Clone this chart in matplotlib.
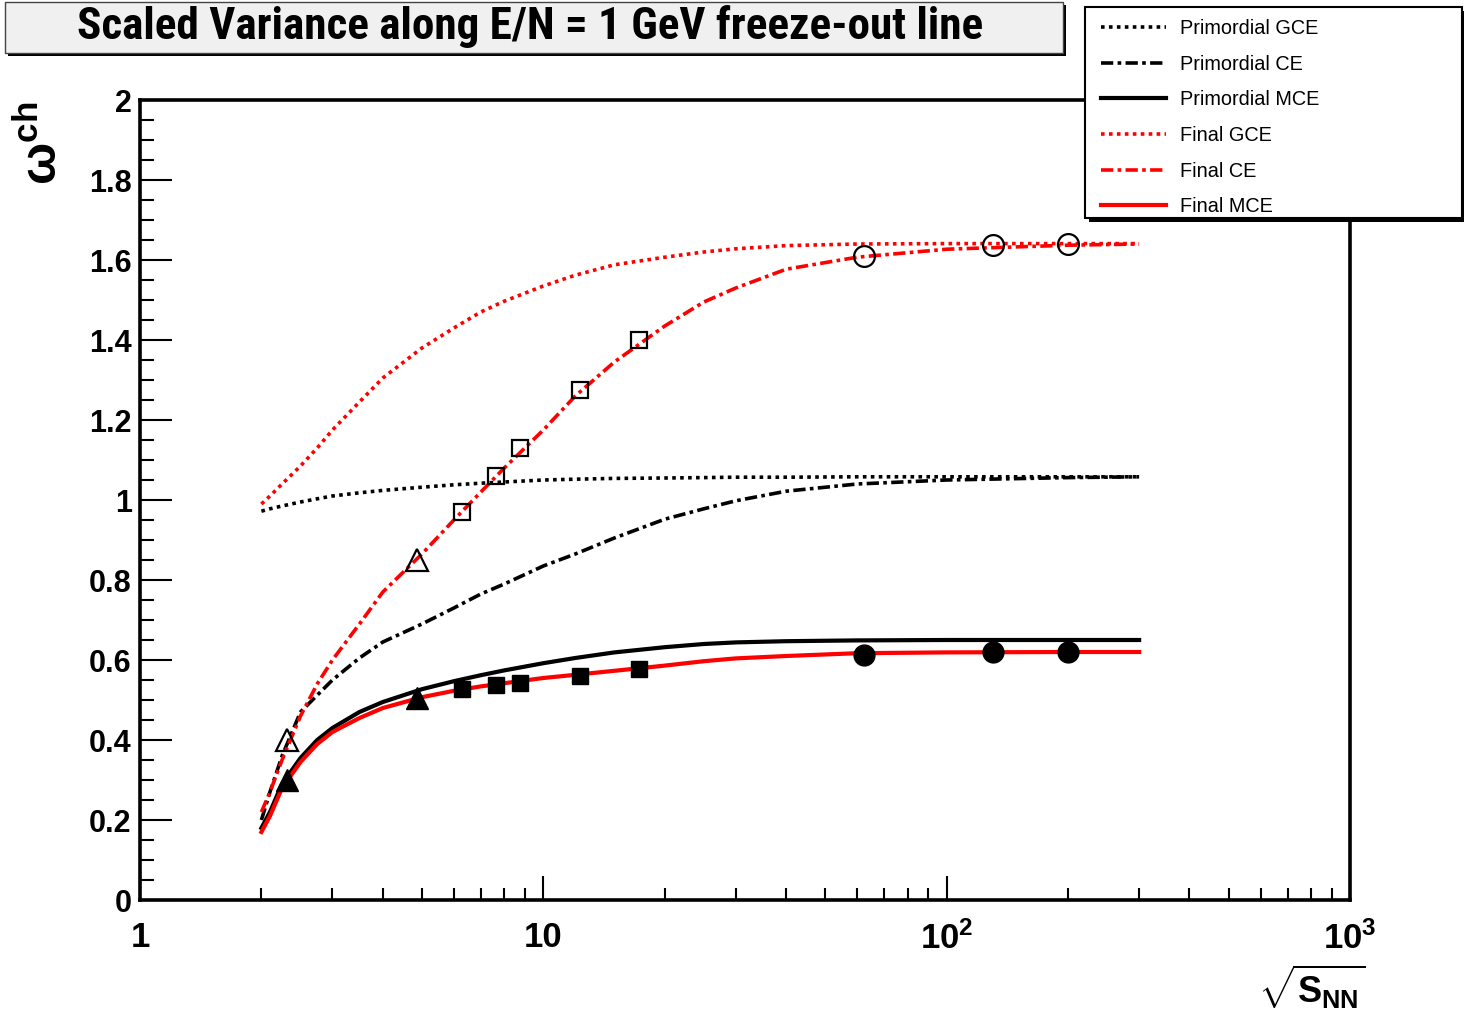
import matplotlib
matplotlib.use('Agg')
import matplotlib.pyplot as plt
from matplotlib.patches import Rectangle
from matplotlib.ticker import FixedLocator, NullFormatter, FixedFormatter

plt.rcParams['font.family'] = ['Liberation Sans', 'DejaVu Sans']
plt.rcParams['mathtext.fontset'] = 'custom'
plt.rcParams['mathtext.rm'] = 'Liberation Sans'
plt.rcParams['mathtext.bf'] = 'Liberation Sans:bold'
plt.rcParams['mathtext.it'] = 'Liberation Sans:italic'

# model curves: sqrt(s_NN) [GeV] and scaled variance omega^ch
sqrt_s = [2.0, 2.1, 2.25, 2.5, 2.75, 3.0, 3.5, 4.0, 5.0, 6.0, 7.0, 8.0, 10.0,
          12.0, 15.0, 20.0, 25.0, 30.0, 40.0, 60.0, 100.0, 200.0, 300.0]
prim_gce = [0.972, 0.978, 0.985, 0.995, 1.003, 1.01, 1.018, 1.024, 1.032, 1.038,
            1.042, 1.045, 1.05, 1.052, 1.054, 1.055, 1.056, 1.057, 1.057, 1.058,
            1.058, 1.058, 1.058]
prim_ce = [0.20, 0.27, 0.36, 0.47, 0.512, 0.55, 0.605, 0.645, 0.69, 0.73,
           0.765, 0.79, 0.835, 0.865, 0.905, 0.952, 0.978, 0.998, 1.022, 1.04,
           1.05, 1.056, 1.058]
prim_mce = [0.18, 0.22, 0.29, 0.355, 0.40, 0.43, 0.47, 0.495, 0.527, 0.547,
            0.562, 0.574, 0.592, 0.605, 0.619, 0.632, 0.64, 0.644, 0.647, 0.649,
            0.65, 0.65, 0.65]
final_gce = [0.99, 1.01, 1.04, 1.085, 1.13, 1.175, 1.245, 1.305, 1.38, 1.43,
             1.47, 1.497, 1.535, 1.562, 1.588, 1.607, 1.62, 1.628, 1.636, 1.64,
             1.641, 1.641, 1.641]
final_ce = [0.22, 0.27, 0.35, 0.46, 0.54, 0.60, 0.69, 0.77, 0.865, 0.95,
            1.02, 1.08, 1.175, 1.26, 1.345, 1.435, 1.495, 1.53, 1.577, 1.607,
            1.627, 1.637, 1.64]
final_mce = [0.17, 0.21, 0.28, 0.345, 0.39, 0.42, 0.455, 0.48, 0.507, 0.523,
             0.534, 0.542, 0.555, 0.563, 0.573, 0.586, 0.597, 0.604, 0.61, 0.617,
             0.619, 0.62, 0.62]

# points at the AGS, SPS and RHIC energies
e_ags = [2.32, 4.86]
ce_ags = [0.40, 0.85]
mce_ags = [0.30, 0.505]
e_sps = [6.27, 7.62, 8.77, 12.3, 17.3]
ce_sps = [0.97, 1.06, 1.13, 1.275, 1.40]
mce_sps = [0.528, 0.537, 0.543, 0.56, 0.578]
e_rhic = [62.4, 130.0, 200.0]
ce_rhic = [1.61, 1.637, 1.64]
mce_rhic = [0.612, 0.62, 0.62]

xtick_vals = [1, 10, 100, 1000]
xtick_text = ['1', '10', r'$\mathbf{10^{2}}$', r'$\mathbf{10^{3}}$']
ytick_vals = [0, 0.2, 0.4, 0.6, 0.8, 1.0, 1.2, 1.4, 1.6, 1.8, 2.0]
ytick_text = ['0', '0.2', '0.4', '0.6', '0.8', '1', '1.2', '1.4', '1.6', '1.8', '2']

W, H = 1464, 1019
def fx(px):
    return px / W
def fy(py):
    return 1 - py / H

fig = plt.figure(figsize=(W / 100, H / 100), dpi=100)
ax = fig.add_axes([fx(140), fy(900), fx(1350) - fx(140), fy(100) - fy(900)])

dot = (0, (1, 1.2))
dashdot = (0, (3.4, 1.2, 1, 1.2))
l1, = ax.plot(sqrt_s, prim_gce, color='black', ls=dot, lw=2.6)
l2, = ax.plot(sqrt_s, prim_ce, color='black', ls=dashdot, lw=2.6)
l3, = ax.plot(sqrt_s, prim_mce, color='black', ls='-', lw=3.0)
l4, = ax.plot(sqrt_s, final_gce, color='red', ls=dot, lw=2.6)
l5, = ax.plot(sqrt_s, final_ce, color='red', ls=dashdot, lw=2.6)
l6, = ax.plot(sqrt_s, final_mce, color='red', ls='-', lw=3.0)

ax.plot(e_ags, ce_ags, ls='none', marker='^', ms=16, mfc='none', mec='black', mew=1.6)
ax.plot(e_ags, mce_ags, ls='none', marker='^', ms=16, mfc='black', mec='black')
ax.plot(e_sps, ce_sps, ls='none', marker='s', ms=12, mfc='none', mec='black', mew=1.6)
ax.plot(e_sps, mce_sps, ls='none', marker='s', ms=12, mfc='black', mec='black')
ax.plot(e_rhic, ce_rhic, ls='none', marker='o', ms=15, mfc='none', mec='black', mew=1.6)
ax.plot(e_rhic, mce_rhic, ls='none', marker='o', ms=15, mfc='black', mec='black')

ax.set_xscale('log')
ax.set_xlim(1, 1000)
ax.set_ylim(0, 2)
for s in ax.spines.values():
    s.set_linewidth(2.6)

ax.xaxis.set_major_locator(FixedLocator(xtick_vals))
ax.xaxis.set_major_formatter(FixedFormatter(xtick_text))
ax.xaxis.set_minor_locator(FixedLocator([m * d for d in (1, 10, 100) for m in range(2, 10)]))
ax.xaxis.set_minor_formatter(NullFormatter())
ax.yaxis.set_major_locator(FixedLocator(ytick_vals))
ax.yaxis.set_major_formatter(FixedFormatter(ytick_text))
ax.yaxis.set_minor_locator(FixedLocator([i * 0.05 for i in range(41)]))
ax.tick_params(which='both', direction='in', top=False, right=False, width=1.5)
ax.tick_params(axis='y', which='major', length=23, pad=6, labelsize=22)
ax.tick_params(axis='y', which='minor', length=10)
ax.tick_params(axis='x', which='major', length=17, pad=15, labelsize=25)
ax.tick_params(axis='x', which='minor', length=9)
for lab in ax.get_xticklabels() + ax.get_yticklabels():
    lab.set_fontweight('bold')

fig.text(fx(42), fy(143), r'$\mathbf{\omega^{ch}}$', rotation=90,
         ha='center', va='center', fontsize=36)
fig.text(fx(1312), fy(987), r'$\sqrt{\mathbf{S}_{\mathbf{NN}}}$',
         ha='center', va='center', fontsize=26)

# title box with drop shadow
fig.patches.append(Rectangle((fx(8), fy(56)), fx(1063) - fx(5), fy(2) - fy(53),
                             transform=fig.transFigure, fc='black', ec='none', zorder=3))
fig.patches.append(Rectangle((fx(5), fy(53)), fx(1063) - fx(5), fy(2) - fy(53),
                             transform=fig.transFigure, fc='#f0f0f0', ec='#444444',
                             lw=1, zorder=3.5))
fig.text(fx(530), fy(27), 'Scaled Variance along E/N = 1 GeV freeze-out line',
         ha='center', va='center', fontsize=32.5, fontweight='bold', zorder=4,
         family=['Roboto Condensed', 'Liberation Sans'])

# legend box with drop shadow
fig.patches.append(Rectangle((fx(1089), fy(222)), fx(1462) - fx(1085), fy(7) - fy(218),
                             transform=fig.transFigure, fc='black', ec='none', zorder=4))
fig.patches.append(Rectangle((fx(1085), fy(218)), fx(1462) - fx(1085), fy(7) - fy(218),
                             transform=fig.transFigure, fc='white', ec='black',
                             lw=1.5, zorder=4.5))
leg = fig.legend([l1, l2, l3, l4, l5, l6],
                 ['Primordial GCE', 'Primordial CE', 'Primordial MCE',
                  'Final GCE', 'Final CE', 'Final MCE'],
                 loc='upper left', bbox_to_anchor=(fx(1087), fy(5)),
                 frameon=False, fontsize=14.3, handlelength=3.3,
                 handletextpad=0.7, labelspacing=0.84, borderpad=0.2)
leg.set_zorder(5)

fig.savefig('out.png', dpi=100)
